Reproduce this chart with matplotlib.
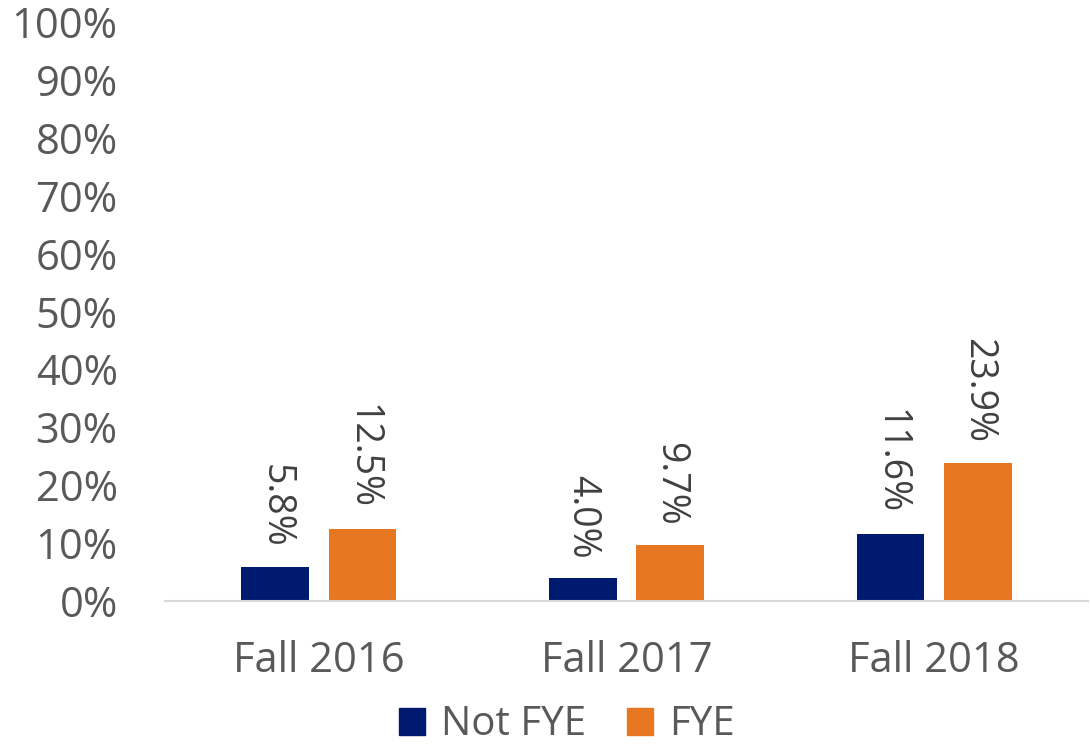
import numpy as np
import matplotlib.pyplot as plt
from matplotlib.patches import Patch

plt.rcParams['font.family'] = ['Open Sans', 'DejaVu Sans']

# dados
categorias = ["Fall 2016", "Fall 2017", "Fall 2018"]
not_fye = [5.8, 4.0, 11.6]
fye = [12.5, 9.7, 23.9]

cor_navy = "#001A70"
cor_laranja = "#E87722"
cor_texto = "#595959"

fig = plt.figure(figsize=(10.9, 7.49), dpi=100)
ax = fig.add_axes([0.1514, 0.1976, 0.8466, 0.773])

x = np.arange(len(categorias))
larg = 0.22
desl = 0.142

b1 = ax.bar(x - desl, np.array(not_fye) / 100, larg, color=cor_navy)
b2 = ax.bar(x + desl, np.array(fye) / 100, larg, color=cor_laranja)

# rótulos de dados, girados
for barras, valores in [(b1, not_fye), (b2, fye)]:
    for b, v in zip(barras, valores):
        ax.annotate(f"{v:.1f}%", (b.get_x() + b.get_width() / 2, b.get_height()),
                    xytext=(0, 14), textcoords="offset points",
                    rotation=-90, ha="center", va="bottom",
                    fontsize=27, color="#404040")

ax.set_ylim(0, 1)
ax.set_xlim(-0.5, 2.5)
ax.set_yticks(np.arange(0, 1.01, 0.1))
ax.set_yticklabels([f"{int(round(t * 100))}%" for t in np.arange(0, 1.01, 0.1)])
ax.set_xticks(x)
ax.set_xticklabels(categorias)
ax.tick_params(axis="both", length=0, labelsize=30, colors=cor_texto)
ax.tick_params(axis="x", pad=28)
ax.tick_params(axis="y", pad=34)

for lado in ["top", "right", "left"]:
    ax.spines[lado].set_visible(False)
ax.spines["bottom"].set_color("#D9D9D9")
ax.spines["bottom"].set_linewidth(1.5)

handles = [Patch(color=cor_navy, label="Not FYE"), Patch(color=cor_laranja, label="FYE")]
leg = fig.legend(handles=handles, loc="center", bbox_to_anchor=(0.520, 0.032), ncol=2,
                 frameon=False, fontsize=29, handlelength=0.65, handleheight=0.65,
                 handletextpad=0.4, columnspacing=1.0, borderpad=0.1)
for t in leg.get_texts():
    t.set_color(cor_texto)

fig.savefig("out.png", dpi=100)
